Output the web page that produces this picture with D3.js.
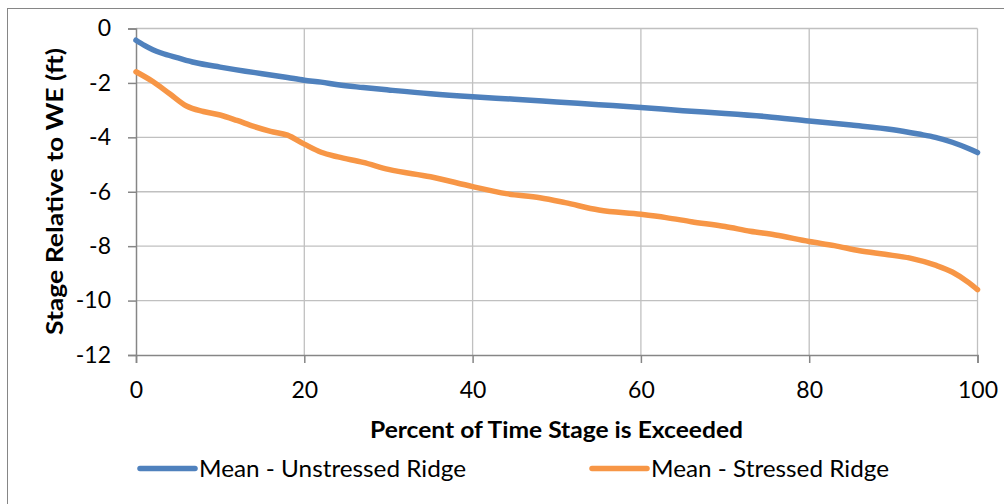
<!DOCTYPE html>
<html><head><meta charset="utf-8">
<script src="https://cdn.jsdelivr.net/npm/d3@7"></script>
<style>body{margin:0;background:#fff}svg{display:block}text{font-family:Lato,"Open Sans",sans-serif;fill:#000}</style>
</head><body><svg id="c" width="1004" height="504"></svg>
<script>
const unstressedX = [0,1,2,3,5,7,10,13,15,18,20,22,24,27,30,35,40,45,50,55,60,65,70,75,80,85,90,93,95,97,99,100];
const unstressedY = [-0.43,-0.62,-0.78,-0.9,-1.08,-1.25,-1.42,-1.57,-1.66,-1.8,-1.9,-1.97,-2.07,-2.17,-2.26,-2.4,-2.51,-2.6,-2.7,-2.8,-2.9,-3.02,-3.12,-3.24,-3.4,-3.55,-3.72,-3.88,-4.0,-4.18,-4.42,-4.56];
const stressedX = [0,2,4,6,8,10,12,14,16,18,20,22,24,27,30,35,40,44,48,51,55,60,63,66,70,73,76,80,83,86,89,92,95,97,99,100];
const stressedY = [-1.59,-1.95,-2.4,-2.85,-3.05,-3.18,-3.38,-3.6,-3.78,-3.92,-4.25,-4.55,-4.72,-4.92,-5.18,-5.45,-5.81,-6.07,-6.22,-6.4,-6.67,-6.83,-6.95,-7.1,-7.28,-7.45,-7.59,-7.83,-7.98,-8.17,-8.3,-8.44,-8.7,-8.95,-9.35,-9.6];
const xTicks = [0,20,40,60,80,100];
const yTicks = [0,-2,-4,-6,-8,-10,-12];
const seriesNames = ["Mean - Unstressed Ridge","Mean - Stressed Ridge"];
const colors = ["#4f81bd","#f79646"];

const svg = d3.select("#c");
svg.append("rect").attr("x",7.5).attr("y",8.5).attr("width",1010).attr("height",510)
  .attr("fill","#fff").attr("stroke","#868686").attr("stroke-width",1);

const x = d3.scaleLinear().domain([0,100]).range([136,977.5]);
const y = d3.scaleLinear().domain([-12,0]).range([355,28.5]);

// gridlines
const g = svg.append("g");
g.selectAll(".hg").data(yTicks.filter(d=>d!==-12)).join("line")
  .attr("x1",x(0)).attr("x2",x(100)).attr("y1",d=>y(d)).attr("y2",d=>y(d))
  .attr("stroke","#c0c0c0").attr("stroke-width",1.3);
g.selectAll(".vg").data(xTicks.filter(d=>d!==0)).join("line")
  .attr("x1",d=>x(d)).attr("x2",d=>x(d)).attr("y1",y(0)).attr("y2",y(-12))
  .attr("stroke","#c0c0c0").attr("stroke-width",1.3);

// axes
const yAxis = d3.axisLeft(y).tickValues(yTicks).tickSize(8).tickPadding(17).tickFormat(d3.format("d"));
const ya = svg.append("g").attr("transform",`translate(${x(0)},0)`).call(yAxis);
const xAxis = d3.axisBottom(x).tickValues(xTicks).tickSize(8).tickPadding(19);
const xa = svg.append("g").attr("transform",`translate(0,${y(-12)})`).call(xAxis);
[ya,xa].forEach(a=>{
  a.select(".domain").attr("stroke","#868686").attr("stroke-width",1.5);
  a.selectAll(".tick line").attr("stroke","#868686").attr("stroke-width",1.5);
  a.selectAll(".tick text").style("font-size","23px").style("font-family","Lato,'Open Sans',sans-serif").attr("fill","#000");
});
ya.selectAll(".tick text").text(d=>d===0?"0":"-"+Math.abs(d));

// lines
const line = d3.line().x(d=>x(d[0])).y(d=>y(d[1])).curve(d3.curveMonotoneX);
const data = [d3.zip(unstressedX,unstressedY), d3.zip(stressedX,stressedY)];
svg.selectAll(".ser").data(data).join("path")
  .attr("d",line).attr("fill","none").attr("stroke",(d,i)=>colors[i])
  .attr("stroke-width",5.5).attr("stroke-linejoin","round").attr("stroke-linecap","round");

// titles
svg.append("text").attr("x",556.5).attr("y",437.5).attr("text-anchor","middle")
  .attr("textLength",373).attr("lengthAdjust","spacingAndGlyphs")
  .style("font-size","22px").style("font-weight","bold").text("Percent of Time Stage is Exceeded");
svg.append("text").attr("transform","translate(62.5,191.5) rotate(-90)").attr("text-anchor","middle")
  .attr("textLength",287).attr("lengthAdjust","spacingAndGlyphs")
  .style("font-size","22px").style("font-weight","bold").text("Stage Relative to WE (ft)");

// legend
const lx = [140,592];
const lw = [267,238];
seriesNames.forEach((n,i)=>{
  svg.append("line").attr("x1",lx[i]).attr("x2",lx[i]+55).attr("y1",468.5).attr("y2",468.5)
    .attr("stroke",colors[i]).attr("stroke-width",5.5).attr("stroke-linecap","round");
  svg.append("text").attr("x",lx[i]+59).attr("y",477).style("font-size","23px")
    .attr("textLength",lw[i]).attr("lengthAdjust","spacingAndGlyphs").text(n);
});
</script></body></html>
